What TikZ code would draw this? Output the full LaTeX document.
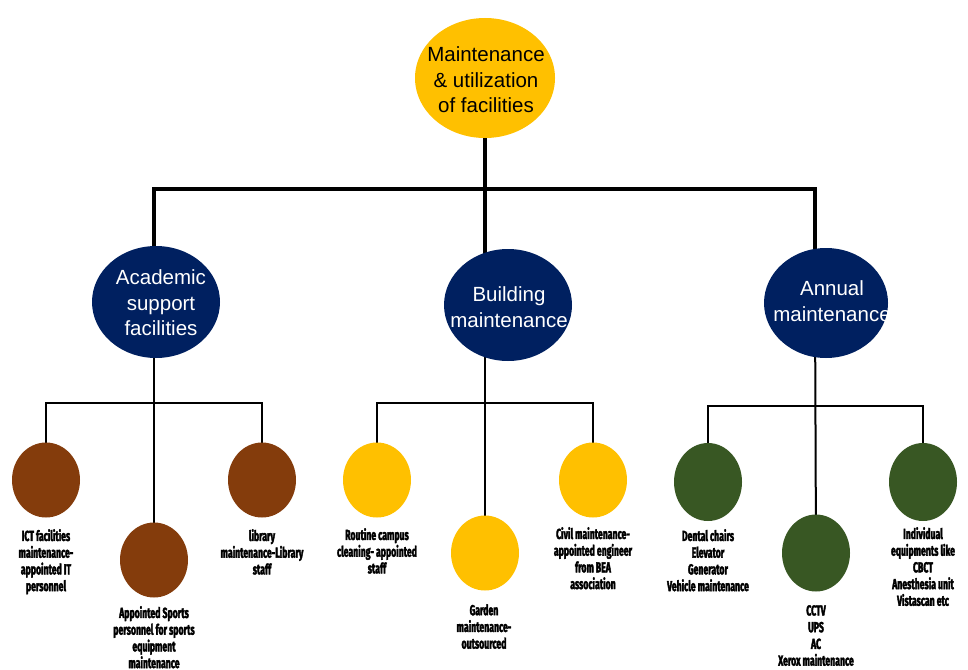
\documentclass[tikz,border=0pt]{standalone}
\usepackage{fontspec}
\setmainfont{Liberation Sans}
\newfontfamily\narrowbold[FakeStretch=0.6, FakeBold=2.5]{Fira Sans}
\usetikzlibrary{shapes.geometric,backgrounds}

\definecolor{gold}{HTML}{FFC000}
\definecolor{navy}{HTML}{002060}
\definecolor{rust}{HTML}{843C0C}
\definecolor{moss}{HTML}{385723}

\tikzset{
  blob/.style={ellipse, inner sep=0pt, draw=none},
  rootblob/.style={blob, fill=gold, minimum width=140pt, minimum height=120pt},
  headblob/.style={blob, fill=navy, minimum width=128pt, minimum height=112pt},
  leafblob/.style={blob, minimum width=68pt, minimum height=75pt},
  roottext/.style={inner sep=0pt, align=center, font=\fontsize{20.5}{25.5}\selectfont},
  headtext/.style={inner sep=0pt, align=center, text=white, font=\fontsize{20.5}{25.5}\selectfont},
  leaftext/.style={anchor=north, inner sep=0pt, align=center,
    font=\narrowbold\bfseries\fontsize{14.5}{16.7}\selectfont},
  trunk/.style={line width=4pt},
  twig/.style={line width=2pt},
}

\begin{document}
\begin{tikzpicture}[x=1pt,y=-1pt]
\useasboundingbox (0,0) rectangle (968,669);

% root
\node[rootblob] (root) at (485,78) {};
\node[roottext] (roott) at (486,80) {Maintenance\\ \& utilization\\ of facilities};

% second level
\node[headblob] (acad) at (156,302) {};
\node[headtext] (acadt) at (161,303) {Academic\\ support\\ facilities};
\node[headblob] (bldg) at (508,305) {};
\node[headtext] (bldgt) at (509,307) {Building\\ maintenance};
\node[headblob, minimum width=124pt, minimum height=110pt] (annu) at (826,303) {};
\node[headtext] (annut) at (832,301) {Annual\\ maintenance};

% leaves: academic support
\node[leafblob, fill=rust] (a1) at (46,480) {};
\node[leafblob, fill=rust] (a2) at (154,560) {};
\node[leafblob, fill=rust] (a3) at (262,480) {};
% leaves: building
\node[leafblob, fill=gold] (b1) at (377,480) {};
\node[leafblob, fill=gold] (b2) at (485,553) {};
\node[leafblob, fill=gold] (b3) at (593,480) {};
% leaves: annual
\node[leafblob, fill=moss, minimum height=78pt] (c1) at (708,482) {};
\node[leafblob, fill=moss, minimum height=77pt] (c2) at (816,553) {};
\node[leafblob, fill=moss, minimum height=78pt] (c3) at (923,482) {};

% leaf captions
\node[leaftext] (a1t) at (46,529) {ICT facilities\\ maintenance-\\ appointed IT\\ personnel};
\node[leaftext] (a2t) at (154,606) {Appointed Sports\\ personnel for sports\\ equipment\\ maintenance};
\node[leaftext] (a3t) at (262,529) {library\\ maintenance-Library\\ staff};
\node[leaftext] (b1t) at (377,528) {Routine campus\\ cleaning- appointed\\ staff};
\node[leaftext] (b2t) at (484,604) {Garden\\ maintenance-\\ outsourced};
\node[leaftext] (b3t) at (593,527) {Civil maintenance-\\ appointed engineer\\ from BEA\\ association};
\node[leaftext] (c1t) at (708,529) {Dental chairs\\ Elevator\\ Generator\\ Vehicle maintenance};
\node[leaftext] (c2t) at (816,605) {CCTV\\ UPS\\ AC\\ Xerox maintenance};
\node[leaftext] (c3t) at (923,527) {Individual\\ equipments like\\ CBCT\\ Anesthesia unit\\ Vistascan etc};

% joints of the main bar and the three branch bars
\coordinate (jA) at (154,189);
\coordinate (jB) at (485,189);
\coordinate (jC) at (815,189);
\coordinate (sA) at (154,403);
\coordinate (sB) at (485,403);
\coordinate (sC) at (815,406);

\begin{scope}[on background layer]
  % main tree
  \draw[trunk] (root.south) -- (jB);
  \draw[trunk, line cap=rect] (jA) -- (jC);
  \draw[trunk] (jA) -- (jA |- acad.center);
  \draw[trunk] (jB) -- (jB |- bldg.center);
  \draw[trunk] (jC) -- (jC |- annu.center);
  % branches
  \draw[twig] (sA |- acad.center) -- (a2.center);
  \draw[twig] (sB |- bldg.center) -- (b2.center);
  \draw[twig] (sC |- annu.center) -- (c2.center);
  \draw[twig] (a1.center) |- (sA) -| (a3.center);
  \draw[twig] (b1.center) |- (sB) -| (b3.center);
  \draw[twig] (c1.center) |- (sC) -| (c3.center);
\end{scope}
\end{tikzpicture}
\end{document}
